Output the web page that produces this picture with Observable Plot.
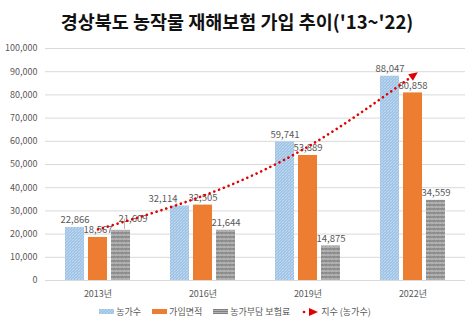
<!DOCTYPE html>
<html><head><meta charset="utf-8">
<script src="https://cdn.jsdelivr.net/npm/d3@7"></script>
<script src="https://cdn.jsdelivr.net/npm/@observablehq/plot@0.6"></script>
<style>
body{margin:0;background:#fff;width:474px;height:327px;overflow:hidden;font-family:"Noto Sans CJK KR","Noto Sans",sans-serif;position:relative}
#title{position:absolute;left:0;top:9px;width:474px;text-align:center;font-size:18.5px;font-weight:bold;color:#111;line-height:24px}
#chart{position:absolute;left:0;top:36px}
#legend{position:absolute;left:0;top:305px;width:474px;display:flex;justify-content:center;align-items:center;font-size:9px;color:#595959;gap:11px;padding-right:4px;box-sizing:border-box}
.it{display:flex;align-items:center;gap:2px}
.sw{width:15px;height:5px;display:inline-block}
</style></head><body>
<div id="title">경상북도 농작물 재해보험 가입 추이('13~'22)</div>
<div id="chart"></div>
<div id="legend">
 <span class="it"><svg class="sw" width="15" height="5"><rect width="15" height="5" fill="url(#hb2)"/></svg>농가수</span>
 <span class="it"><span class="sw" style="background:#ED7D31"></span>가입면적</span>
 <span class="it"><svg class="sw" width="15" height="5"><rect width="15" height="5" fill="url(#hg2)"/></svg>농가부담 보험료</span>
 <span class="it"><svg width="18" height="10"><circle cx="3" cy="5" r="1.3" fill="#E00000"/><path d="M8,1 L17,5 L8,9 Z" fill="#E00000"/></svg>지수 (농가수)</span>
</div>
<script>
const years = ["2013년", "2016년", "2019년", "2022년"];
const farms = [22866, 32114, 59741, 88047];      // 농가수
const area = [18567, 32505, 53889, 80858];       // 가입면적
const premium = [21609, 21644, 14875, 34559];    // 농가부담 보험료
const trend = [22000, 36500, 57700, 88300];      // 지수 (농가수) trend
const yTicks = [0, 10000, 20000, 30000, 40000, 50000, 60000, 70000, 80000, 90000, 100000];

const seriesNames = ["농가수", "가입면적", "농가부담 보험료"];
const seriesValues = [farms, area, premium];
const fills = ["url(#hb)", "#ED7D31", "url(#hg)"];
const offsets = [-23, 0, 23];
// label nudges (style only) keyed by series index / year index
const nudge = {"0|1": [-17, 0], "2|0": [12, -4]};

const rows = seriesValues.map((vals, s) => years.map((y, i) => ({year: y, value: vals[i], series: seriesNames[s], key: s + "|" + i})));
const trendRows = years.map((y, i) => ({year: y, value: trend[i]}));

const arrowMarker = (color) => {
  const ns = "http://www.w3.org/2000/svg";
  const m = document.createElementNS(ns, "marker");
  m.setAttribute("viewBox", "-6 -5 10 10");
  m.setAttribute("markerWidth", "10");
  m.setAttribute("markerHeight", "10");
  m.setAttribute("markerUnits", "userSpaceOnUse");
  m.setAttribute("orient", "auto");
  m.setAttribute("refX", "-2");
  m.setAttribute("refY", "0");
  const p = document.createElementNS(ns, "path");
  p.setAttribute("d", "M-5,-4 L4,0 L-5,4 Z");
  p.setAttribute("fill", "#E00000");
  p.setAttribute("stroke", "none");
  m.appendChild(p);
  return m;
};

const marks = [
  Plot.ruleY(yTicks, {stroke: "#d9d9d9", strokeWidth: 1}),
  Plot.axisY({ticks: yTicks, tickFormat: d3.format(","), tickSize: 0, tickPadding: 8, fontSize: 9, color: "#595959", label: null}),
  Plot.axisX({tickSize: 0, tickPadding: 10, fontSize: 9, color: "#595959", label: null})
];
rows.forEach((r, s) => {
  marks.push(Plot.barY(r, {x: "year", y: "value", fill: fills[s], dx: offsets[s]}));
  const plain = r.filter(d => !nudge[d.key]);
  marks.push(Plot.text(plain, {x: "year", y: "value", text: d => d3.format(",")(d.value), dx: offsets[s], dy: -4, lineAnchor: "bottom", fontSize: 9.5, fill: "#595959"}));
  r.filter(d => nudge[d.key]).forEach(d => {
    const [nx, ny] = nudge[d.key];
    marks.push(Plot.text([d], {x: "year", y: "value", text: d => d3.format(",")(d.value), dx: offsets[s] + nx, dy: -4 + ny, lineAnchor: "bottom", fontSize: 9.5, fill: "#595959"}));
    // thin leader line from label towards the bar top
    marks.push(Plot.link([d], {x1: "year", x2: "year", y1: "value", y2: "value", dx: offsets[s] + nx / 2, dy: -3, stroke: "#a6a6a6", strokeWidth: 0.8,
      render: (index, scales, values, dims, context, next) => {
        const g = next(index, scales, values, dims, context);
        const path = g.querySelector("path");
        const x = scales.x(d.year) + scales.x.bandwidth() / 2 + offsets[s];
        const y = scales.y(d.value);
        const lx = x + nx + (nx > 0 ? -8 : 10), ly = y - 4 + ny - 3;
        path.setAttribute("d", `M${lx},${ly}L${x + (nx > 0 ? 4 : -2)},${y - 1}`);
        g.removeAttribute("transform");
        return g;
      }}));
  });
});
marks.push(Plot.line(trendRows, {x: "year", y: "value", stroke: "#E00000", strokeWidth: 2.6, strokeDasharray: "0.1,5", strokeLinecap: "round", curve: "natural", markerEnd: arrowMarker}));

const chart = Plot.plot({
  width: 474,
  height: 268,
  marginLeft: 45,
  marginRight: 9,
  marginTop: 12,
  marginBottom: 24,
  style: {fontFamily: '"Noto Sans CJK KR","Noto Sans",sans-serif', background: "#fff"},
  x: {domain: years, paddingInner: 0.819, paddingOuter: 0.4095},
  y: {domain: [0, 100000]},
  marks
});

const defs = `<defs>
<pattern id="hb" width="3" height="3" patternUnits="userSpaceOnUse"><rect width="3" height="3" fill="#9DC3E6"/><path d="M0,3 L3,0" stroke="#c8ddf2" stroke-width="0.8"/><path d="M0,0 L3,3" stroke="#b4d0ec" stroke-width="0.5"/></pattern>
<pattern id="hg" width="4" height="4" patternUnits="userSpaceOnUse"><rect width="4" height="4" fill="#8c8c8c"/><rect y="2" width="4" height="2" fill="#b3b3b3"/><path d="M0,0 L4,4" stroke="#9a9a9a" stroke-width="0.6"/></pattern>
</defs>`;
chart.insertAdjacentHTML("afterbegin", defs);
document.getElementById("chart").appendChild(chart);
document.querySelector("#legend").insertAdjacentHTML("afterbegin", `<svg width="0" height="0" style="position:absolute"><defs>
<pattern id="hb2" width="3" height="3" patternUnits="userSpaceOnUse"><rect width="3" height="3" fill="#9DC3E6"/><path d="M0,3 L3,0" stroke="#c8ddf2" stroke-width="0.8"/></pattern>
<pattern id="hg2" width="2" height="2" patternUnits="userSpaceOnUse"><rect width="2" height="2" fill="#7f7f7f"/><rect y="1" width="2" height="1" fill="#b3b3b3"/></pattern>
</defs></svg>`);
</script>
</body></html>
